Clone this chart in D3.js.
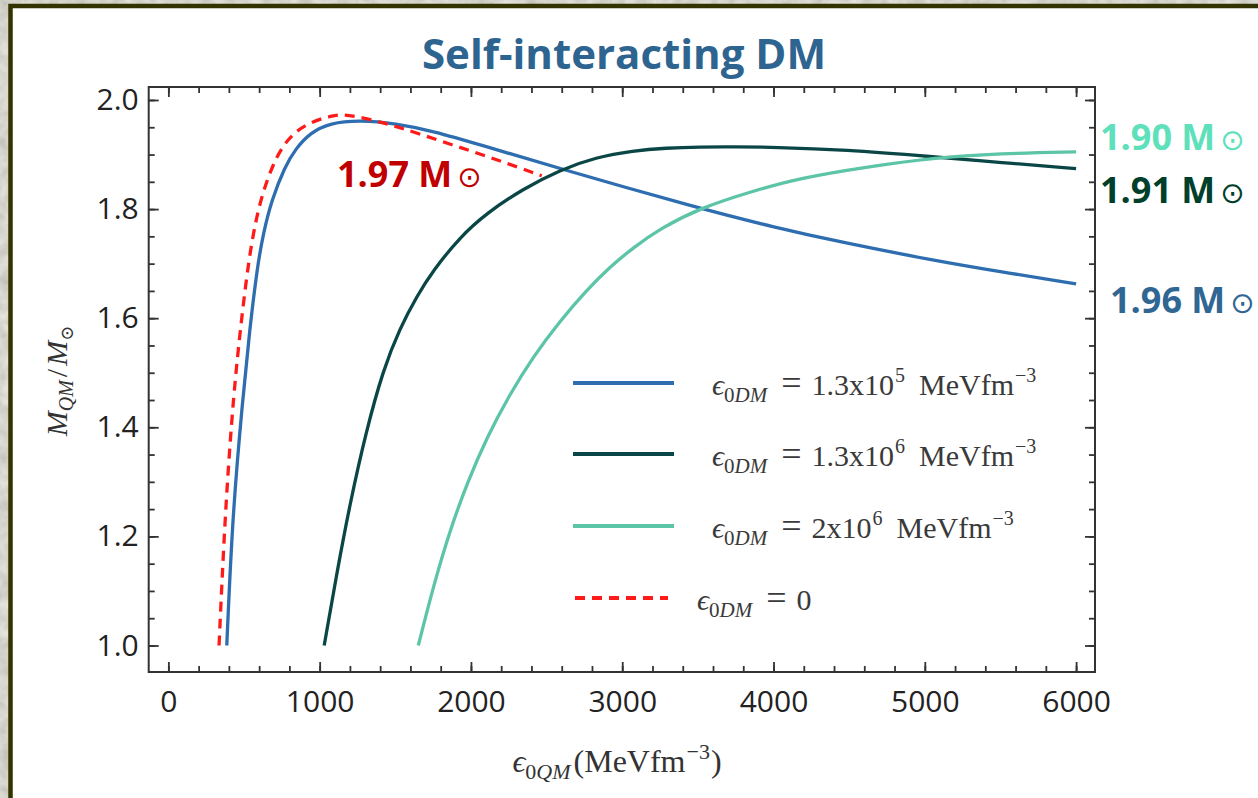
<!DOCTYPE html>
<html>
<head>
<meta charset="utf-8">
<script src="https://cdn.jsdelivr.net/npm/d3@7"></script>
<style>
  html, body { margin: 0; padding: 0; background: #aba999; }
  svg { display: block; }
</style>
</head>
<body>
<svg id="chart" width="1258" height="798"></svg>
<script>
// Central energy density of quark matter (MeV fm^-3) and the resulting mass (M_sun)
const blueE  = [386, 425, 491, 535, 588, 628, 683, 771, 837, 937, 1069, 1267, 1500, 1750, 2060, 2589, 3500, 4000, 4469, 5057, 5500, 6000];
const blueM  = [1.0, 1.243, 1.45, 1.573, 1.695, 1.756, 1.817, 1.878, 1.909, 1.94, 1.958, 1.963, 1.957, 1.943, 1.918, 1.874, 1.802, 1.767, 1.738, 1.706, 1.685, 1.663];

const darkE  = [1030, 1115, 1201, 1306, 1419, 1531, 1644, 1749, 1928, 2106, 2344, 2589, 2827, 3071, 3289, 3514, 3745, 4000, 4469, 5056, 5500, 6000];
const darkM  = [1.0, 1.135, 1.261, 1.391, 1.505, 1.582, 1.641, 1.687, 1.749, 1.793, 1.837, 1.872, 1.895, 1.907, 1.912, 1.914, 1.914, 1.9135, 1.909, 1.896, 1.8855, 1.874];

const tealE  = [1652, 1756, 1862, 1981, 2106, 2258, 2410, 2589, 2767, 2919, 3071, 3250, 3514, 3862, 4175, 4611, 5054, 5497, 6000];
const tealM  = [1.0, 1.113, 1.212, 1.302, 1.382, 1.461, 1.529, 1.595, 1.652, 1.694, 1.729, 1.764, 1.802, 1.833, 1.857, 1.877, 1.894, 1.902, 1.905];

const redE   = [335, 375, 430, 485, 540, 606, 694, 782, 915, 1091, 1157, 1267, 1509, 1840, 2170, 2468];
const redM   = [1.0, 1.243, 1.46, 1.603, 1.726, 1.817, 1.885, 1.928, 1.958, 1.972, 1.973, 1.969, 1.952, 1.921, 1.891, 1.861];

// Axis ticks
const xMajorTicks = [0, 1000, 2000, 3000, 4000, 5000, 6000];
const xTickLabels = ["0", "1000", "2000", "3000", "4000", "5000", "6000"];
const yMajorTicks = [1.0, 1.2, 1.4, 1.6, 1.8, 2.0];
const yTickLabels = ["1.0", "1.2", "1.4", "1.6", "1.8", "2.0"];

// Maximum-mass annotations
const peakLabels = ["1.97", "1.90", "1.91", "1.96"];

// Legend entries: ε0DM mantissa and exponent
const legendMantissa = ["1.3x10", "1.3x10", "2x10", null];
const legendExponent = ["5", "6", "6", null];

const svg = d3.select("#chart");

// stone-like backdrop behind the slide panel
const defs = svg.append("defs");
const stone = defs.append("filter").attr("id", "stone").attr("x", 0).attr("y", 0).attr("width", 1).attr("height", 1);
stone.append("feTurbulence").attr("type", "fractalNoise").attr("baseFrequency", 0.08).attr("numOctaves", 3).attr("seed", 4);
stone.append("feColorMatrix").attr("type", "matrix")
  .attr("values", "0 0 0 0.35 0.5  0 0 0 0.35 0.49  0 0 0 0.35 0.43  0 0 0 0 1");

svg.append("rect").attr("x", 0).attr("y", 0).attr("width", 1258).attr("height", 798)
  .attr("fill", "#aba999").attr("filter", "url(#stone)");
svg.append("rect")
  .attr("x", 10.5).attr("y", 6).attr("width", 1400).attr("height", 1000)
  .attr("fill", "#ffffff").attr("stroke", "#333300").attr("stroke-width", 4.5);

// plot area
const L = 148.7, R = 1095, T = 87, B = 672;
const x = d3.scaleLinear().domain([-130, 6125]).range([L, R]);
const y = d3.scaleLinear().domain([0.9514, 2.0238]).range([B, T]);

const minorX = d3.range(0, 6001, 200);
const minorY = d3.range(1.0, 2.001, 0.05);

const tickColor = "#333";
function styleAxis(g) {
  g.select(".domain").remove();
  g.selectAll(".tick line").attr("stroke", tickColor).attr("stroke-width", 1.8);
}

// minor ticks on all four sides
svg.append("g").attr("transform", `translate(0,${B})`)
  .call(d3.axisBottom(x).tickValues(minorX).tickSize(-6).tickSizeOuter(0).tickFormat(""))
  .call(styleAxis);
svg.append("g").attr("transform", `translate(0,${T})`)
  .call(d3.axisTop(x).tickValues(minorX).tickSize(-6).tickSizeOuter(0).tickFormat(""))
  .call(styleAxis);
svg.append("g").attr("transform", `translate(${L},0)`)
  .call(d3.axisLeft(y).tickValues(minorY).tickSize(-6).tickSizeOuter(0).tickFormat(""))
  .call(styleAxis);
svg.append("g").attr("transform", `translate(${R},0)`)
  .call(d3.axisRight(y).tickValues(minorY).tickSize(-6).tickSizeOuter(0).tickFormat(""))
  .call(styleAxis);

// major ticks
const xb = svg.append("g").attr("transform", `translate(0,${B})`)
  .call(d3.axisBottom(x).tickValues(xMajorTicks).tickSize(-10).tickSizeOuter(0).tickPadding(19)
    .tickFormat((d, i) => xTickLabels[i]))
  .call(styleAxis);
svg.append("g").attr("transform", `translate(0,${T})`)
  .call(d3.axisTop(x).tickValues(xMajorTicks).tickSize(-10).tickSizeOuter(0).tickFormat(""))
  .call(styleAxis);
const yl = svg.append("g").attr("transform", `translate(${L},0)`)
  .call(d3.axisLeft(y).tickValues(yMajorTicks).tickSize(-10).tickSizeOuter(0).tickPadding(10)
    .tickFormat((d, i) => yTickLabels[i]))
  .call(styleAxis);
svg.append("g").attr("transform", `translate(${R},0)`)
  .call(d3.axisRight(y).tickValues(yMajorTicks).tickSize(-10).tickSizeOuter(0).tickFormat(""))
  .call(styleAxis);

[xb, yl].forEach(g => g.selectAll(".tick text")
  .attr("font-family", "'Open Sans', sans-serif").attr("font-size", 30).attr("fill", "#222"));

// frame
svg.append("rect").attr("x", L).attr("y", T).attr("width", R - L).attr("height", B - T)
  .attr("fill", "none").attr("stroke", "#333").attr("stroke-width", 2);

// curves
const line = d3.line().x(d => x(d[0])).y(d => y(d[1])).curve(d3.curveBasis);
const series = [
  { e: blueE, m: blueM, color: "#2e6db0", dash: null },
  { e: darkE, m: darkM, color: "#0b4646", dash: null },
  { e: tealE, m: tealM, color: "#5cc4a7", dash: null },
  { e: redE,  m: redM,  color: "#ff1a1a", dash: "10,7" }
];
series.forEach(s => {
  svg.append("path")
    .datum(s.e.map((v, i) => [v, s.m[i]]))
    .attr("d", line)
    .attr("fill", "none")
    .attr("stroke", s.color)
    .attr("stroke-width", 3.3)
    .attr("stroke-dasharray", s.dash);
});

// title
svg.append("text")
  .attr("x", 624).attr("y", 69).attr("text-anchor", "middle")
  .attr("font-family", "'Open Sans', sans-serif").attr("font-weight", 700).attr("font-size", 42)
  .attr("fill", "#2e6490").text("Self-interacting DM");

// maximum-mass annotations
const annot = [
  { x: 337,  y: 187, color: "#c00000", text: peakLabels[0] },
  { x: 1100, y: 150, color: "#5ee0bb", text: peakLabels[1] },
  { x: 1100, y: 203, color: "#003f2b", text: peakLabels[2] },
  { x: 1110, y: 313, color: "#2f6693", text: peakLabels[3] }
];
annot.forEach(a => {
  const t = svg.append("text").attr("x", a.x).attr("y", a.y)
    .attr("font-family", "'Open Sans', sans-serif").attr("font-size", 36).attr("fill", a.color);
  t.append("tspan").attr("font-weight", 700).text(a.text + " M");
  t.append("tspan").attr("dx", 5).attr("font-family", "'DejaVu Sans', sans-serif")
    .attr("font-weight", 400).attr("font-size", 29).text("⊙");
});

// legend
const serif = "'Liberation Serif', 'DejaVu Serif', serif";
const legendY = [383, 454, 526, 598];
const legendTextX = [712, 712, 712, 697];
series.forEach((s, i) => {
  svg.append("line")
    .attr("x1", i === 3 ? 575 : 573).attr("x2", i === 3 ? 668 : 674)
    .attr("y1", legendY[i]).attr("y2", legendY[i])
    .attr("stroke", s.color).attr("stroke-width", 4)
    .attr("stroke-dasharray", s.dash);
  const t = svg.append("text").attr("x", legendTextX[i]).attr("y", legendY[i] + 12)
    .attr("font-family", serif).attr("font-size", 30).attr("fill", "#3a3a3a");
  t.append("tspan").attr("font-style", "italic").text("ϵ");
  t.append("tspan").attr("dy", 7).attr("font-size", 21).text("0");
  t.append("tspan").attr("font-size", 21).attr("font-style", "italic").text("DM");
  t.append("tspan").attr("dy", -7).attr("dx", 14).attr("font-size", 36).text("=");
  if (legendMantissa[i]) {
    t.append("tspan").attr("dx", 10).text(legendMantissa[i]);
    t.append("tspan").attr("dy", -13).attr("dx", 1).attr("font-size", 20).text(legendExponent[i]);
    t.append("tspan").attr("dy", 13).attr("dx", 14).text("MeVfm");
    t.append("tspan").attr("dy", -13).attr("dx", 1).attr("font-size", 20).text("−3");
  } else {
    t.append("tspan").attr("dx", 10).text("0");
  }
});

// axis titles
const yt = svg.append("text").attr("transform", "translate(67,381) rotate(-90)")
  .attr("text-anchor", "middle").attr("font-family", serif).attr("font-size", 30).attr("fill", "#333");
yt.append("tspan").attr("font-style", "italic").text("M");
yt.append("tspan").attr("dy", 6).attr("font-size", 20).attr("font-style", "italic").text("QM");
yt.append("tspan").attr("dy", -6).attr("dx", 3).text("/");
yt.append("tspan").attr("dx", 3).attr("font-style", "italic").text("M");
yt.append("tspan").attr("dy", 6).attr("font-size", 18).text("⊙");

const xt = svg.append("text").attr("x", 617).attr("y", 772)
  .attr("text-anchor", "middle").attr("font-family", serif).attr("font-size", 32).attr("fill", "#333");
xt.append("tspan").attr("font-style", "italic").text("ϵ");
xt.append("tspan").attr("dy", 7).attr("font-size", 22).text("0");
xt.append("tspan").attr("font-size", 22).attr("font-style", "italic").text("QM");
xt.append("tspan").attr("dy", -7).attr("dx", 3).text("(MeVfm");
xt.append("tspan").attr("dy", -13).attr("dx", 1).attr("font-size", 22).text("−3");
xt.append("tspan").attr("dy", 13).attr("dx", 1).text(")");
</script>
</body>
</html>
